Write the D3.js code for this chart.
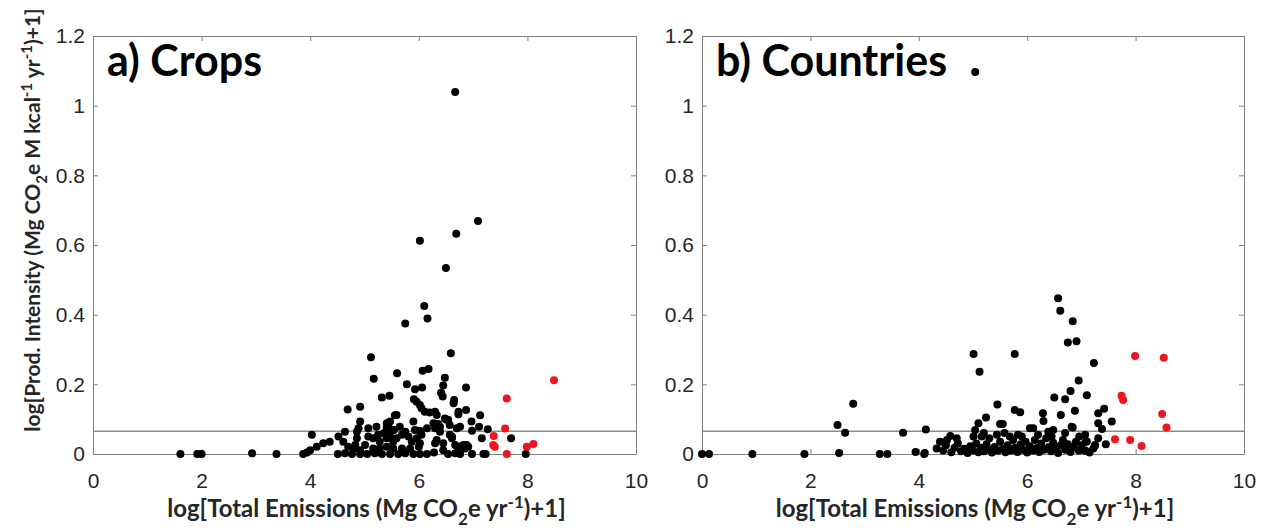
<!DOCTYPE html>
<html>
<head>
<meta charset="utf-8">
<script src="https://cdn.jsdelivr.net/npm/d3@7"></script>
<style>
  body { margin: 0; background: #fff; }
  svg { font-family: Lato, "Open Sans", sans-serif; }
  .axis path, .axis line { stroke: #808080; stroke-width: 1; }
  .axis text { fill: #262626; font-size: 21px; }
</style>
</head>
<body>
<svg id="chart" width="1265" height="530"></svg>
<script>
// tick values
var xTicks = [0, 2, 4, 6, 8, 10];
var yTicks = [0, 0.2, 0.4, 0.6, 0.8, 1, 1.2];
var threshold = 0.065;

// a) crops - [log total emissions, log production intensity]
var cropsBlack = [
  [1.61,0],[1.92,0],[2.00,0],[2.93,0.002],[3.38,0],[3.87,0],[3.94,0.004],[4.00,0.011],[4.03,0.055],
  [4.12,0.021],[4.24,0.031],[4.36,0.035],[4.52,0.050],[4.64,0.064],[4.86,0.064],[4.89,0.074],[4.92,0.093],
  [6.67,1.039],[7.09,0.669],[6.69,0.632],[6.02,0.612],[6.50,0.534],[6.10,0.425],[6.16,0.389],[5.75,0.375],
  [6.59,0.289],[5.12,0.278],[5.17,0.216],[5.60,0.232],[6.07,0.239],[6.18,0.244],[5.78,0.200],[5.93,0.186],
  [6.06,0.191],[6.48,0.219],[6.45,0.197],[6.87,0.191],[6.41,0.176],[6.44,0.165],[5.32,0.162],[5.46,0.167],
  [5.91,0.157],[5.96,0.150],[6.02,0.141],[6.05,0.131],[6.11,0.121],[6.20,0.119],[6.30,0.121],
  [6.65,0.155],[6.64,0.146],[4.69,0.128],[4.92,0.136],[6.87,0.126],[6.73,0.114],[7.13,0.111],[5.56,0.111],
  [6.97,0.093],[7.11,0.078],[6.98,0.067],[7.27,0.071],[5.90,0.093],[5.93,0.069],[6.02,0.067],[6.15,0.074],
  [5.41,0.078],[5.47,0.093],[5.59,0.112],[6.33,0.112],[6.48,0.102],[6.51,0.098],[6.73,0.121],
  [6.27,0.088],[6.30,0.074],[6.39,0.078],[6.70,0.074],[6.76,0.078],
  [7.70,0.045],[7.97,0],[7.23,0],[6.98,0],
  [6.57,0.055],[6.61,0.045],[6.33,0.040],[6.30,0.031],[6.45,0.031],[6.67,0.026],[6.82,0.026],[6.85,0.016],
  [6.91,0.021],[7.16,0.045],[6.45,0.011],[6.54,0],[6.67,0.002],[6.76,0],[7.19,0],
  [4.61,0.035],[4.70,0.021],[4.86,0.045],[4.83,0.026],[5.07,0.050],[5.16,0.045],[5.25,0.055],[5.35,0.059],
  [5.41,0.045],[5.47,0.050],[5.53,0.035],[5.59,0.045],[5.69,0.055],[5.75,0.064],[5.81,0.050],[5.87,0.035],
  [5.96,0.045],[6.02,0.031],[6.05,0.055],
  [4.81,0.016],[4.92,0.011],[5.16,0.016],[5.28,0.016],[5.41,0.021],[5.53,0.016],[5.69,0.016],[5.84,0.016],[6.00,0.021],
  [4.51,0],[4.64,0.002],[4.77,0],[4.92,0],[5.05,0],[5.19,0.002],[5.32,0],[5.47,0],[5.62,0],[5.75,0.002],
  [5.90,0],[6.02,0],[6.15,0],[6.28,0.004],
  [5.07,0.074],[5.22,0.078],[5.65,0.078],[5.53,0.069],[5.28,0.035],[5.01,0.026],
  [6.36,0.086],[6.39,0.064],[6.54,0.098],[6.57,0.083],[6.61,0.050],[6.73,0.021],[6.88,0.026],
  [5.41,0.088],[5.44,0.078],[5.40,0.067],[5.54,0.069]
];
var cropsRed = [
  [7.62,0.159],[7.59,0.073],[7.38,0.052],[7.40,0.021],[7.37,0.026],[7.62,0],[7.99,0.021],[8.11,0.029],[8.49,0.212]
];

// b) countries
var countriesBlack = [
  [0,0],[0.13,0],[0.93,0],[1.89,0],[2.53,0.003],[2.50,0.083],[2.64,0.061],[2.79,0.144],[3.28,0],[3.42,0],
  [3.71,0.061],[3.94,0.006],[4.11,0.003],[4.10,0],[4.13,0.070],[5.04,1.097],
  [5.01,0.287],[5.12,0.236],[5.77,0.287],[5.45,0.142],[5.24,0.105],[5.10,0.088],[5.50,0.086],[5.55,0.086],
  [5.77,0.126],[5.87,0.120],
  [6.57,0.447],[6.61,0.411],[6.84,0.381],[6.75,0.320],[6.91,0.324],[7.23,0.261],[6.95,0.211],[6.80,0.181],
  [6.70,0.157],[6.50,0.162],[7.10,0.169],[6.88,0.124],[6.62,0.112],[6.29,0.117],[6.30,0.095],[6.84,0.076],
  [7.31,0.117],[7.31,0.088],[6.05,0.074],[6.11,0.074],
  [7.42,0.130],[7.56,0.093],[7.38,0.072],
  [7.07,0.055],[7.10,0.036],[7.31,0.045],[7.45,0.028],[7.25,0.026],[7.22,0.016],[7.07,0.010],
  [6.48,0.069],[6.39,0.064],[7.08,0.035],[7.07,0.009],[7.25,0.024],
  [5.04,0.069],[5.01,0.050],[5.16,0.050],[4.58,0.052],[4.52,0.040],[4.39,0.035],[4.33,0.016],[5.44,0.055],
  [5.83,0.055],[5.68,0.050],[6.82,0.078],
  [4.45,0.010],[4.50,0.025],[4.60,0.005],[4.66,0.018],[4.72,0.030],[4.78,0.008],[4.84,0.015],[4.90,0.003],
  [4.95,0.022],[5.00,0.010],[5.06,0.030],[5.10,0.005],[5.15,0.018],[5.20,0.008],[5.25,0.028],[5.30,0.012],
  [5.35,0.004],[5.40,0.020],[5.46,0.009],[5.50,0.035],[5.55,0.015],[5.60,0.005],[5.64,0.025],[5.70,0.010],
  [5.74,0.040],[5.78,0.018],[5.82,0.006],[5.88,0.028],[5.92,0.012],[5.97,0.035],[6.00,0.004],[6.05,0.022],
  [6.10,0.010],[6.14,0.040],[6.18,0.017],[6.22,0.006],[6.26,0.030],[6.31,0.012],[6.35,0.045],[6.40,0.020],
  [6.44,0.008],[6.48,0.032],[6.53,0.015],[6.57,0.003],[6.62,0.025],[6.66,0.040],[6.70,0.012],[6.75,0.028],
  [6.80,0.006],[6.85,0.020],[6.90,0.035],[6.95,0.010],[7.00,0.025],[7.15,0.004],
  [5.30,0.045],[5.58,0.060],[5.90,0.050],[6.20,0.055],[6.45,0.050],[6.70,0.060],[6.96,0.050],[5.20,0.060],[4.70,0.045]
];
var countriesRed = [
  [7.99,0.281],[8.52,0.276],[7.74,0.167],[7.77,0.155],[8.49,0.115],[8.57,0.076],[7.62,0.042],[7.90,0.040],[8.11,0.023]
];

var svg = d3.select("#chart");

// plot box, pixels
var plotTop = 36, plotBottom = 454;
var y = d3.scaleLinear().domain([0, 1.2]).range([plotBottom, plotTop]);

drawPanel(93, 636, "a) Crops", cropsBlack, cropsRed);
drawPanel(702, 1244, "b) Countries", countriesBlack, countriesRed);

function drawPanel(left, right, title, blackPts, redPts) {
    var x = d3.scaleLinear().domain([0, 10]).range([left, right]);
    var g = svg.append("g");

    // axes, ticks point inward on all four sides
    g.append("g").attr("class", "axis")
        .attr("transform", "translate(0," + plotBottom + ")")
        .call(d3.axisBottom(x).tickValues(xTicks).tickSizeInner(-5).tickSizeOuter(0).tickPadding(19));
    g.append("g").attr("class", "axis")
        .attr("transform", "translate(0," + plotTop + ")")
        .call(d3.axisTop(x).tickValues(xTicks).tickSizeInner(-5).tickSizeOuter(0).tickFormat(""));
    g.append("g").attr("class", "axis")
        .attr("transform", "translate(" + left + ",0)")
        .call(d3.axisLeft(y).tickValues(yTicks).tickFormat(d3.format("~g"))
              .tickSizeInner(-5).tickSizeOuter(0).tickPadding(8));
    g.append("g").attr("class", "axis")
        .attr("transform", "translate(" + right + ",0)")
        .call(d3.axisRight(y).tickValues(yTicks).tickSizeInner(-5).tickSizeOuter(0).tickFormat(""));

    // threshold line
    g.append("line")
        .attr("x1", left).attr("x2", right)
        .attr("y1", y(threshold)).attr("y2", y(threshold))
        .attr("stroke", "#8c8c8c").attr("stroke-width", 1.5);

    g.append("g").selectAll("circle")
        .data(blackPts)
        .enter().append("circle")
        .attr("cx", function(d) { return x(d[0]); })
        .attr("cy", function(d) { return y(d[1]); })
        .attr("r", 4)
        .attr("fill", "#000");

    g.append("g").selectAll("circle")
        .data(redPts)
        .enter().append("circle")
        .attr("cx", function(d) { return x(d[0]); })
        .attr("cy", function(d) { return y(d[1]); })
        .attr("r", 4)
        .attr("fill", "#f0141e");

    g.append("text")
        .attr("x", left + 14)
        .attr("y", 76)
        .attr("font-size", "43px")
        .attr("font-weight", "bold")
        .attr("fill", "#000")
        .text(title);

    // x axis label
    var xl = g.append("text")
        .attr("x", (left + right) / 2 + 2)
        .attr("y", 517)
        .attr("text-anchor", "middle")
        .attr("font-size", "24px")
        .attr("font-weight", "bold")
        .attr("fill", "#262626");
    xl.append("tspan").text("log[Total Emissions (Mg CO");
    xl.append("tspan").attr("font-size", "17px").attr("dy", 8).text("2");
    xl.append("tspan").attr("dy", -8).text("e yr");
    xl.append("tspan").attr("font-size", "17px").attr("dy", -9).text("-1");
    xl.append("tspan").attr("dy", 9).text(")+1]");
}

// y axis label (left panel only)
var yl = svg.append("text")
    .attr("transform", "translate(40,220)rotate(-90)")
    .attr("text-anchor", "middle")
    .attr("font-size", "21px")
    .attr("font-weight", "bold")
    .attr("fill", "#262626");
yl.append("tspan").text("log[Prod. Intensity (Mg CO");
yl.append("tspan").attr("font-size", "15px").attr("dy", 7).text("2");
yl.append("tspan").attr("dy", -7).text("e M kcal");
yl.append("tspan").attr("font-size", "15px").attr("dy", -8).text("-1");
yl.append("tspan").attr("dy", 8).text(" yr");
yl.append("tspan").attr("font-size", "15px").attr("dy", -8).text("-1");
yl.append("tspan").attr("dy", 8).text(")+1]");
</script>
</body>
</html>
